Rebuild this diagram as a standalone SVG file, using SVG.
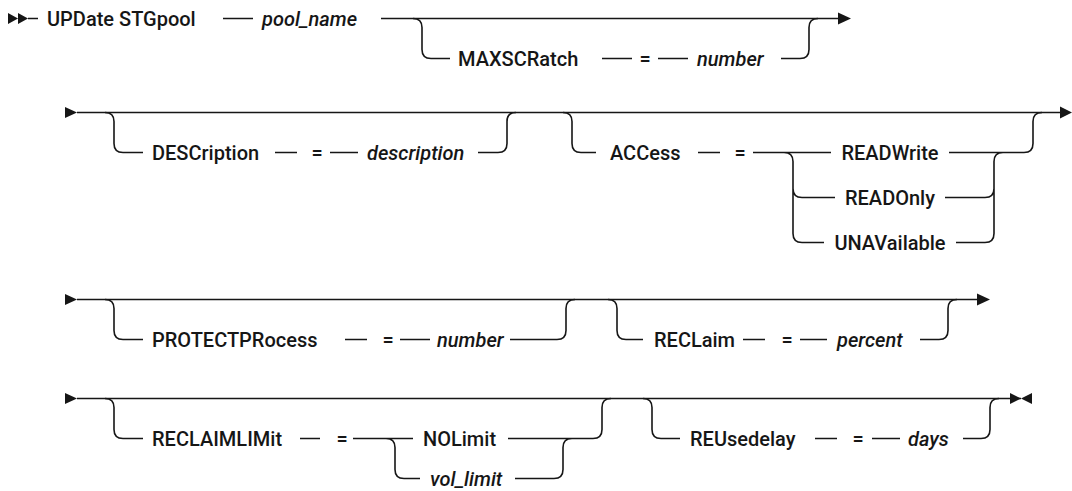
<svg xmlns="http://www.w3.org/2000/svg" width="1072" height="491" viewBox="0 0 1072 491">
<style>
.t{font-family:Roboto,"Liberation Sans",sans-serif;font-size:20px;font-weight:500;fill:#161616}
.v{font-style:italic}
.m{text-anchor:middle}
.l{fill:none;stroke:#161616;stroke-width:1.6}
.a{fill:#161616}
</style>
<rect width="1072" height="491" fill="#fff"/>
<g id="connectors">
<path class="a" d="M8,13 L18,18.5 L8,24 Z M18,13 L28,18.5 L18,24 Z"/>
<path class="l" d="M28,18.5 H38 M223,18.5 H253 M381,18.5 H839"/>
<path class="a" d="M838,12.5 L851,18.5 L838,24.5 Z"/>
<path class="l" d="M413,18.5 Q422,18.5 422,27.5 V49.5 Q422,58.5 431,58.5 H450 M602,58.5 H632 M658,58.5 H688 M781,58.5 H800 Q809,58.5 809,49.5 V27.5 Q809,18.5 818,18.5"/>
<path class="a" d="M65,107 L77,112.5 L65,118 Z"/>
<path class="l" d="M77,112.5 H1061"/>
<path class="a" d="M1060,106.5 L1072,112.5 L1060,118.5 Z"/>
<path class="l" d="M105,112.5 Q114,112.5 114,121.5 V143.5 Q114,152.5 123,152.5 H143 M275,152.5 H297 M330,152.5 H358 M478,152.5 H498 Q507,152.5 507,143.5 V121.5 Q507,112.5 516,112.5"/>
<path class="l" d="M563,112.5 Q572,112.5 572,121.5 V143.5 Q572,152.5 581,152.5 H596 M698,152.5 H720 M753,152.5 H831 M784,152.5 Q793,152.5 793,161.5 V233.5 Q793,242.5 802,242.5 H824 M793,188.5 Q793,197.5 802,197.5 H835"/>
<path class="l" d="M949,152.5 H1024 Q1033,152.5 1033,143.5 V121.5 Q1033,112.5 1042,112.5 M945,197.5 H985 Q994,197.5 994,188.5 M956,242.5 H985 Q994,242.5 994,233.5 V161.5 Q994,152.5 1003,152.5"/>
<path class="a" d="M65,294 L77,299.5 L65,305 Z"/>
<path class="l" d="M77,299.5 H978"/>
<path class="a" d="M977,293.5 L990,299.5 L977,305.5 Z"/>
<path class="l" d="M105,299.5 Q114,299.5 114,308.5 V330.5 Q114,339.5 123,339.5 H143 M345,339.5 H367 M400,339.5 H430 M510,339.5 H557 Q566,339.5 566,330.5 V308.5 Q566,299.5 575,299.5"/>
<path class="l" d="M608,299.5 Q617,299.5 617,308.5 V330.5 Q617,339.5 626,339.5 H643 M743,339.5 H765 M800,339.5 H827 M920,339.5 H939 Q948,339.5 948,330.5 V308.5 Q948,299.5 957,299.5"/>
<path class="a" d="M65,393 L77,398.5 L65,404 Z"/>
<path class="l" d="M77,398.5 H1021"/>
<path class="a" d="M1010,393 L1021,398.5 L1010,404 Z M1032,393 L1021,398.5 L1032,404 Z"/>
<path class="l" d="M105,398.5 Q114,398.5 114,407.5 V429.5 Q114,438.5 123,438.5 H143 M300,438.5 H320 M353,438.5 H413 M386,438.5 Q395,438.5 395,447.5 V469.5 Q395,478.5 404,478.5 H420"/>
<path class="l" d="M508,438.5 H593 Q602,438.5 602,429.5 V407.5 Q602,398.5 611,398.5 M515,478.5 H554 Q563,478.5 563,469.5 V447.5 Q563,438.5 572,438.5"/>
<path class="l" d="M643,398.5 Q652,398.5 652,407.5 V429.5 Q652,438.5 661,438.5 H680 M815,438.5 H837 M872,438.5 H900 M963,438.5 H981 Q990,438.5 990,429.5 V407.5 Q990,398.5 999,398.5"/>
</g>
<g id="node-command"><text class="t" x="47" y="25.5">UPDate STGpool</text></g>
<g id="node-pool_name"><text class="t v" x="262" y="25.5">pool_name</text></g>
<g id="node-maxscratch"><text class="t" x="458" y="65.5">MAXSCRatch</text><text class="t m" x="645" y="65.5">=</text><text class="t v" x="697" y="65.5">number</text></g>
<g id="node-description"><text class="t" x="152" y="159.5">DESCription</text><text class="t m" x="317" y="159.5">=</text><text class="t v" x="367" y="159.5">description</text></g>
<g id="node-access"><text class="t" x="610" y="159.5">ACCess</text><text class="t m" x="740" y="159.5">=</text><text class="t m" x="890" y="159.5">READWrite</text><text class="t m" x="890" y="204.5">READOnly</text><text class="t m" x="890" y="249.5">UNAVailable</text></g>
<g id="node-protectprocess"><text class="t" x="152" y="346.5">PROTECTPRocess</text><text class="t m" x="388" y="346.5">=</text><text class="t v" x="437" y="346.5">number</text></g>
<g id="node-reclaim"><text class="t" x="654" y="346.5">RECLaim</text><text class="t m" x="787" y="346.5">=</text><text class="t v" x="837" y="346.5">percent</text></g>
<g id="node-reclaimlimit"><text class="t" x="152" y="445.5">RECLAIMLIMit</text><text class="t m" x="342" y="445.5">=</text><text class="t" x="423" y="445.5">NOLimit</text><text class="t v" x="430" y="485.5">vol_limit</text></g>
<g id="node-reusedelay"><text class="t" x="690" y="445.5">REUsedelay</text><text class="t m" x="858" y="445.5">=</text><text class="t v" x="908" y="445.5">days</text></g>
</svg>
